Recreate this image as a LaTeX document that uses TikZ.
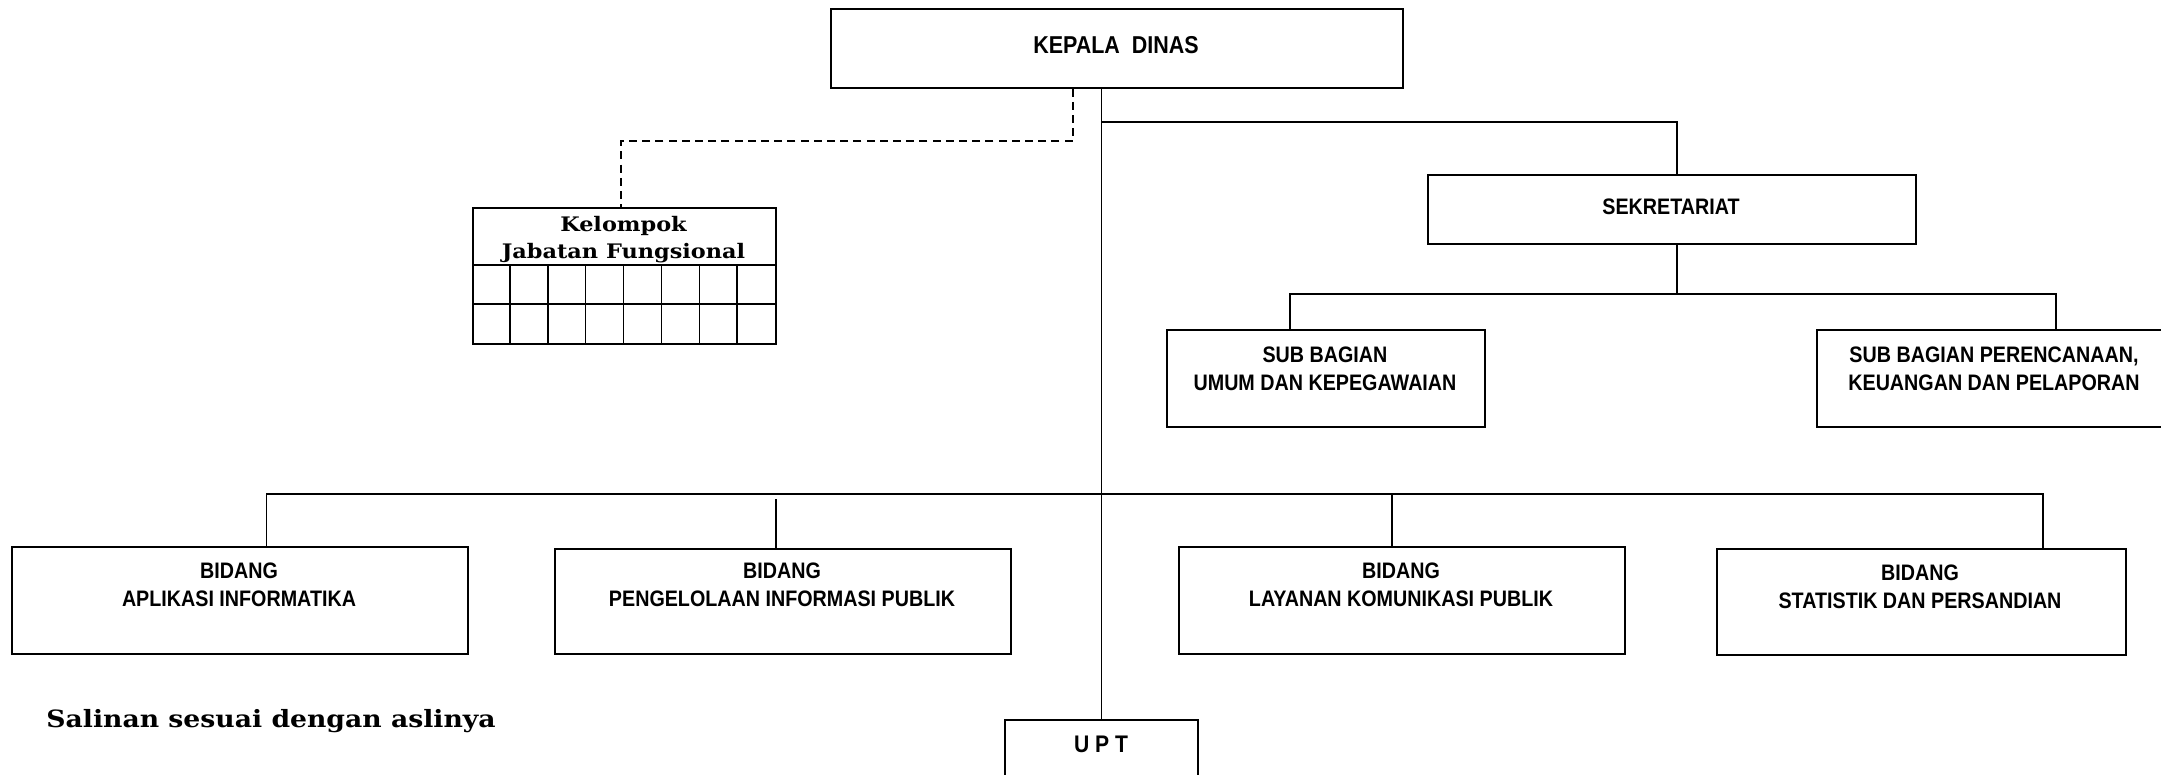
\documentclass[tikz,border=0pt]{standalone}
\usepackage{fontspec}
\setmainfont{Liberation Sans}
\newfontfamily\narrowbf{Liberation Sans Bold}[FakeStretch=0.88]
\newfontfamily\serifbf{DejaVu Serif Bold}[FakeStretch=1.12]
\usetikzlibrary{calc}
\tikzset{
  box/.style={draw, line width=0.85pt, inner sep=0pt, anchor=north west},
  txt/.style={font=\narrowbf\fontsize{11.2}{14}\selectfont, align=center, inner sep=0pt},
  stxt/.style={font=\serifbf\fontsize{10}{13.5}\selectfont, align=center, inner sep=0pt},
  conn/.style={draw, line width=0.75pt},
  dconn/.style={draw, line width=0.75pt, dash pattern=on 4pt off 2.6pt},
  grid line/.style={draw, line width=0.75pt}
}
\begin{document}
\begin{tikzpicture}[x=0.5pt,y=-0.5pt]
\useasboundingbox[fill=white] (0,0) rectangle (2161,775);

% boxes
\node[box, minimum width=286pt, minimum height=39.5pt] (kd) at (830,8) {};
\node[txt, font=\narrowbf\fontsize{12.2}{14}\selectfont] (kdt) at (1116,45.5) {KEPALA\ \ DINAS};

\node[box, minimum width=244pt, minimum height=34.5pt] (sek) at (1427,174) {};
\node[txt] (sekt) at (1671,207) {SEKRETARIAT};

\node[box, minimum width=159pt, minimum height=48.5pt] (sbu) at (1166,329) {};
\node[txt] (sbut) at (1325,368.5) {SUB BAGIAN\\UMUM DAN KEPEGAWAIAN};

\node[box, minimum width=200pt, minimum height=48.5pt] (sbp) at (1816,329) {};
\node[txt] (sbpt) at (1994,368.5) {SUB BAGIAN PERENCANAAN,\\KEUANGAN DAN PELAPORAN};

\node[box, minimum width=228pt, minimum height=53.5pt] (b1) at (11,546) {};
\node[txt] (b1t) at (239,585) {BIDANG\\APLIKASI INFORMATIKA};

\node[box, minimum width=228pt, minimum height=52.5pt] (b2) at (554,548) {};
\node[txt] (b2t) at (782,585) {BIDANG\\PENGELOLAAN INFORMASI PUBLIK};

\node[box, minimum width=223pt, minimum height=53.5pt] (b3) at (1178,546) {};
\node[txt] (b3t) at (1401,585) {BIDANG\\LAYANAN KOMUNIKASI PUBLIK};

\node[box, minimum width=204.5pt, minimum height=53pt] (b4) at (1716,548) {};
\node[txt] (b4t) at (1920,587) {BIDANG\\STATISTIK DAN PERSANDIAN};

\node[box, minimum width=96.5pt, minimum height=50pt] (upt) at (1004,719) {};
\node[txt, font=\narrowbf\fontsize{12}{14}\selectfont] (uptt) at (1101,744) {U P T};

% Kelompok Jabatan Fungsional
\node[box, minimum width=151.5pt, minimum height=68pt] (kjf) at (472,207) {};
\node[stxt] (kjft) at (623.5,239.5) {Kelompok\\Jabatan Fungsional};
\coordinate (kh) at (472,265);
\coordinate (kr) at (472,304);
\draw[grid line] (kh) -- (kh -| kjf.east);
\draw[grid line] (kr) -- (kr -| kjf.east);
\foreach \k in {1,...,7}{
  \draw[grid line] ($(kh)+(\k*37.875,0)$) -- ($(kjf.south west)+(\k*37.875,0)$);
}

\node[stxt, font=\serifbf\fontsize{11.9}{13}\selectfont, anchor=base west] (sal) at (46,727) {Salinan sesuai dengan aslinya};

% connectors
\coordinate (tr) at (1101.5,0);
\coordinate (sekx) at (1677,0);
\coordinate (sy) at (0,122);
\coordinate (sby) at (0,294);
\coordinate (by) at (0,494);
\coordinate (dx) at (1073,0);
\coordinate (dy) at (0,141);
\coordinate (dkx) at (621,0);

\draw[conn] (kd.south -| tr) -- (upt.north -| tr);
\draw[conn] (sy -| tr) -- (sy -| sekx) -- (sek.north -| sekx);
\draw[conn] (sek.south -| sekx) -- (sby -| sekx);
\coordinate (sbux) at (1290,0);
\coordinate (sbpx) at (2056,0);
\draw[conn] (sbu.north -| sbux) -- (sby -| sbux) -- (sby -| sbpx) -- (sbp.north -| sbpx);

\coordinate (b1x) at (266.6,0);
\coordinate (b2x) at (776,0);
\coordinate (b3x) at (1392,0);
\coordinate (b4x) at (2043,0);
\draw[conn] (b1.north -| b1x) -- (by -| b1x) -- (by -| b4x) -- (b4.north -| b4x);
\draw[conn] ($(by -| b2x)+(0,5)$) -- (b2.north -| b2x);
\draw[conn] (by -| b3x) -- (b3.north -| b3x);

\draw[dconn] (kd.south -| dx) -- (dy -| dx) -- (dy -| dkx) -- (kjf.north -| dkx);
\end{tikzpicture}
\end{document}
